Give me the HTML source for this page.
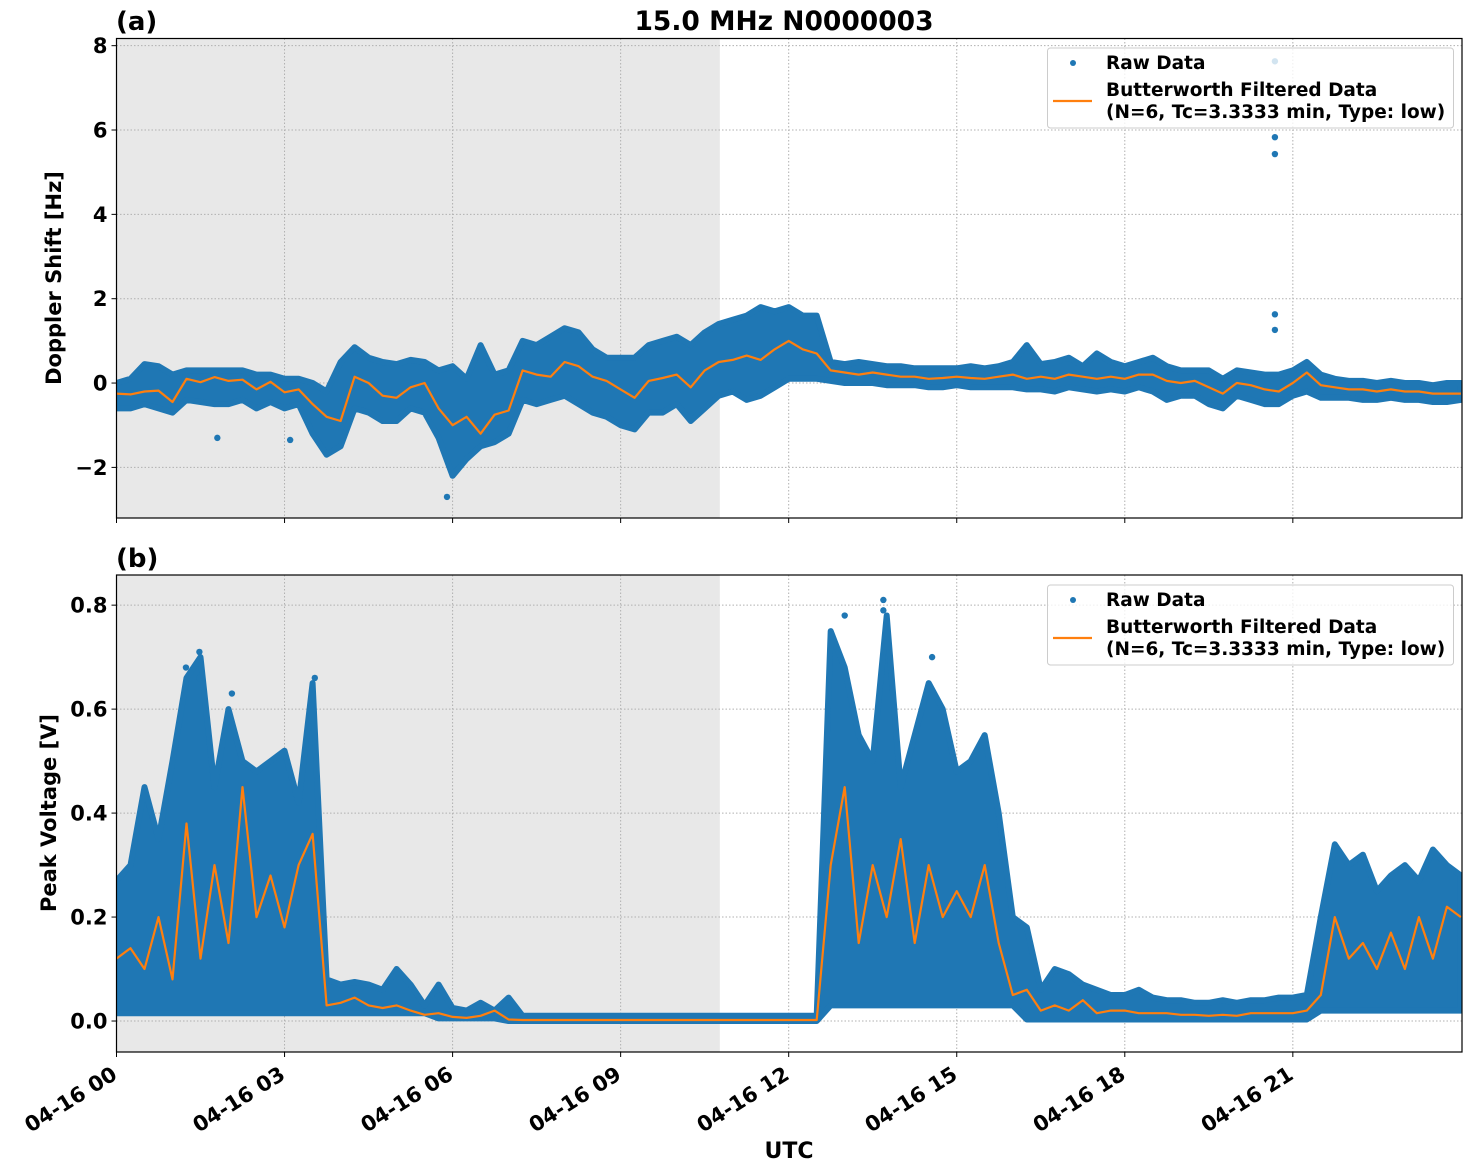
<!DOCTYPE html>
<html><head><meta charset="utf-8"><style>
html,body{margin:0;padding:0;background:#fff;}
svg{display:block;font-family:"DejaVu Sans","Liberation Sans",sans-serif;font-weight:bold;}
</style></head><body>
<svg id="fig" width="1471" height="1172" viewBox="0 0 1471 1172" xmlns="http://www.w3.org/2000/svg">
<text x="784" y="30" font-size="26.5" text-anchor="middle">15.0 MHz N0000003</text>
<text x="116" y="30" font-size="26">(a)</text>
<text x="116" y="567" font-size="26">(b)</text>
<text transform="translate(61,278) rotate(-90)" font-size="21" text-anchor="middle">Doppler Shift [Hz]</text>
<text transform="translate(56,813) rotate(-90)" font-size="21" text-anchor="middle">Peak Voltage [V]</text>
<text x="789" y="1158" font-size="22" text-anchor="middle">UTC</text>
<g id="top"></g>
<g id="bot"></g>
</svg>
<script>
// time grid: hours, 0.25 h steps
const stepH = 0.25;
const xTicks = [0,3,6,9,12,15,18,21];
const xTickLabels = ["04-16 00","04-16 03","04-16 06","04-16 09","04-16 12","04-16 15","04-16 18","04-16 21"];
const nightEnd = 10.77;
// Doppler shift (Hz)
const topFiltered = [-0.25,-0.27,-0.2,-0.18,-0.45,0.1,0.02,0.14,0.05,0.08,-0.15,0.03,-0.22,-0.15,-0.5,-0.8,-0.9,0.15,0.0,-0.3,-0.35,-0.1,0.0,-0.6,-1.0,-0.8,-1.2,-0.75,-0.65,0.3,0.2,0.15,0.5,0.4,0.15,0.05,-0.15,-0.35,0.05,0.12,0.2,-0.1,0.3,0.5,0.55,0.65,0.55,0.8,1.0,0.8,0.7,0.3,0.25,0.2,0.25,0.2,0.15,0.15,0.1,0.12,0.15,0.12,0.1,0.15,0.2,0.1,0.15,0.1,0.2,0.15,0.1,0.15,0.1,0.2,0.2,0.05,0.0,0.05,-0.1,-0.25,0.0,-0.05,-0.15,-0.2,0.0,0.25,-0.05,-0.1,-0.15,-0.15,-0.2,-0.15,-0.2,-0.2,-0.25,-0.25,-0.25];
const topRawHigh = [0.0,0.1,0.45,0.4,0.2,0.3,0.3,0.3,0.3,0.3,0.2,0.2,0.1,0.1,0.0,-0.2,0.5,0.85,0.6,0.5,0.45,0.55,0.5,0.3,0.4,0.1,0.9,0.2,0.3,1.0,0.9,1.1,1.3,1.2,0.8,0.6,0.6,0.6,0.9,1.0,1.1,0.9,1.2,1.4,1.5,1.6,1.8,1.7,1.8,1.6,1.6,0.5,0.45,0.5,0.45,0.4,0.4,0.35,0.35,0.35,0.35,0.4,0.35,0.4,0.5,0.9,0.45,0.5,0.6,0.4,0.7,0.5,0.4,0.5,0.6,0.4,0.3,0.3,0.3,0.1,0.3,0.25,0.2,0.2,0.3,0.5,0.2,0.1,0.05,0.05,0.0,0.05,0.0,0.0,-0.05,0.0,0.0];
const topRawLow = [-0.6,-0.6,-0.5,-0.6,-0.7,-0.4,-0.45,-0.5,-0.5,-0.4,-0.6,-0.45,-0.6,-0.5,-1.2,-1.7,-1.5,-0.6,-0.7,-0.9,-0.9,-0.6,-0.7,-1.3,-2.2,-1.8,-1.5,-1.4,-1.2,-0.4,-0.5,-0.4,-0.3,-0.5,-0.7,-0.8,-1.0,-1.1,-0.7,-0.7,-0.5,-0.9,-0.6,-0.3,-0.2,-0.4,-0.3,-0.1,0.1,0.1,0.1,0.05,0.0,0.0,0.0,-0.05,-0.05,-0.05,-0.1,-0.1,-0.05,-0.1,-0.1,-0.1,-0.1,-0.15,-0.15,-0.2,-0.1,-0.15,-0.2,-0.15,-0.2,-0.1,-0.2,-0.4,-0.3,-0.3,-0.5,-0.6,-0.3,-0.4,-0.5,-0.5,-0.3,-0.2,-0.35,-0.35,-0.35,-0.4,-0.4,-0.35,-0.4,-0.4,-0.45,-0.45,-0.4];
const topOutlierTimes = [20.68,20.68,20.68,20.68,20.68,3.1,1.8,5.9];
const topOutlierValues = [7.63,5.83,5.43,1.63,1.26,-1.35,-1.3,-2.7];
const topYTicks = [-2,0,2,4,6,8];
// Peak voltage (V)
const botFiltered = [0.12,0.14,0.1,0.2,0.08,0.38,0.12,0.3,0.15,0.45,0.2,0.28,0.18,0.3,0.36,0.03,0.035,0.045,0.03,0.025,0.03,0.02,0.012,0.015,0.008,0.006,0.01,0.02,0.003,0.002,0.002,0.002,0.002,0.002,0.002,0.002,0.002,0.002,0.002,0.002,0.002,0.002,0.002,0.002,0.002,0.002,0.002,0.002,0.002,0.002,0.002,0.3,0.45,0.15,0.3,0.2,0.35,0.15,0.3,0.2,0.25,0.2,0.3,0.15,0.05,0.06,0.02,0.03,0.02,0.04,0.015,0.02,0.02,0.015,0.015,0.015,0.012,0.012,0.01,0.012,0.01,0.015,0.015,0.015,0.015,0.02,0.05,0.2,0.12,0.15,0.1,0.17,0.1,0.2,0.12,0.22,0.2];
const botRawHigh = [0.27,0.3,0.45,0.35,0.5,0.66,0.7,0.45,0.6,0.5,0.48,0.5,0.52,0.42,0.65,0.08,0.07,0.075,0.07,0.06,0.1,0.07,0.03,0.07,0.025,0.02,0.035,0.02,0.045,0.01,0.01,0.01,0.01,0.01,0.01,0.01,0.01,0.01,0.01,0.01,0.01,0.01,0.01,0.01,0.01,0.01,0.01,0.01,0.01,0.01,0.01,0.75,0.68,0.55,0.5,0.78,0.45,0.55,0.65,0.6,0.48,0.5,0.55,0.4,0.2,0.18,0.06,0.1,0.09,0.07,0.06,0.05,0.05,0.06,0.045,0.04,0.04,0.035,0.035,0.04,0.035,0.04,0.04,0.045,0.045,0.05,0.2,0.34,0.3,0.32,0.25,0.28,0.3,0.27,0.33,0.3,0.28];
const botRawLow = [0.015,0.015,0.015,0.015,0.015,0.015,0.015,0.015,0.015,0.015,0.015,0.015,0.015,0.015,0.015,0.015,0.015,0.015,0.015,0.015,0.015,0.015,0.015,0.005,0.005,0.005,0.005,0.005,0.0,0.0,0.0,0.0,0.0,0.0,0.0,0.0,0.0,0.0,0.0,0.0,0.0,0.0,0.0,0.0,0.0,0.0,0.0,0.0,0.0,0.0,0.0,0.03,0.03,0.03,0.03,0.03,0.03,0.03,0.03,0.03,0.03,0.03,0.03,0.03,0.03,0.003,0.003,0.003,0.003,0.003,0.003,0.003,0.003,0.003,0.003,0.003,0.003,0.003,0.003,0.003,0.003,0.003,0.003,0.003,0.003,0.003,0.02,0.02,0.02,0.02,0.02,0.02,0.02,0.02,0.02,0.02,0.02];
const botOutlierTimes = [1.48,1.48,1.24,3.54,2.06,13.69,13.69,13.0,14.56];
const botOutlierValues = [0.71,0.66,0.68,0.66,0.63,0.81,0.79,0.78,0.70];
const botYTicks = [0.0,0.2,0.4,0.6,0.8];
const botYLabels = ["0.0","0.2","0.4","0.6","0.8"];

const NS = "http://www.w3.org/2000/svg";
const X0 = 116.5, X1 = 1462, T0 = 0, T1 = 24.02;
function xs(t){ return X0 + (t - T0) / (T1 - T0) * (X1 - X0); }
function mk(tag, attrs, parent){ const e = document.createElementNS(NS, tag); for (const k in attrs) e.setAttribute(k, attrs[k]); parent.appendChild(e); return e; }

function panel(g, top, bottom, vmin, vmax, fil, hi, lo, oT, oV, yt, yl, legendY){
  const ys = v => bottom - (v - vmin) / (vmax - vmin) * (bottom - top);
  const clip = mk('clipPath', {id: g.id + '-clip'}, g);
  mk('rect', {x: X0, y: top, width: X1 - X0, height: bottom - top}, clip);
  const night = mk('rect', {x: X0, y: top, width: xs(nightEnd) - X0, height: bottom - top, fill: '#e8e8e8'}, g);
  
  
  const grid = mk('g', {stroke: '#b0b0b0', 'stroke-width': 1, 'stroke-dasharray': '1.5,2'}, g);
  
  
  xTicks.forEach(t => mk('line', {x1: xs(t), x2: xs(t), y1: top, y2: bottom}, grid));
  yt.forEach(v => mk('line', {x1: X0, x2: X1, y1: ys(v), y2: ys(v)}, grid));
  const data = mk('g', {'clip-path': 'url(#' + g.id + '-clip)'}, g);
  let pts = [];
  hi.forEach((v, i) => pts.push(xs(i * stepH).toFixed(1) + ',' + ys(v).toFixed(1)));
  for (let i = lo.length - 1; i >= 0; i--) pts.push(xs(i * stepH).toFixed(1) + ',' + ys(lo[i]).toFixed(1));
  const band = mk('polygon', {points: pts.join(' '), fill: '#1f77b4', stroke: '#1f77b4', 'stroke-width': 6, 'stroke-linejoin': 'round'}, data);
  
  
  oT.forEach((t, i) => {
    const c = mk('circle', {cx: xs(t), cy: ys(oV[i]), r: 3.2, fill: '#1f77b4'}, data);
    
    
  });
  const line = mk('polyline', {points: fil.map((v, i) => xs(i * stepH).toFixed(1) + ',' + ys(v).toFixed(1)).join(' '), fill: 'none', stroke: '#ff7f0e', 'stroke-width': 2.2, 'stroke-linejoin': 'round'}, data);
  
  
  const frame = mk('rect', {x: X0, y: top, width: X1 - X0, height: bottom - top, fill: 'none', stroke: '#000', 'stroke-width': 1.2}, g);
  
  
  yt.forEach((v, i) => {
    mk('line', {x1: X0 - 5, x2: X0, y1: ys(v), y2: ys(v), stroke: '#000', 'stroke-width': 1}, g);
    const tx = mk('text', {x: X0 - 9, y: ys(v) + 7.5, 'font-size': 21, 'text-anchor': 'end'}, g);
    tx.textContent = yl[i];
    
    
  });
  xTicks.forEach(t => mk('line', {x1: xs(t), x2: xs(t), y1: bottom, y2: bottom + 5, stroke: '#000', 'stroke-width': 1}, g));
  const lg = mk('g', {}, g);
  
  
  mk('rect', {x: 1047.5, y: legendY, width: 406, height: 80, rx: 3, fill: 'rgba(255,255,255,0.8)', stroke: '#ccc', 'stroke-width': 1}, lg);
  mk('circle', {cx: 1073, cy: legendY + 15, r: 3, fill: '#1f77b4'}, lg);
  const t1 = mk('text', {x: 1106, y: legendY + 21, 'font-size': 18.5}, lg); t1.textContent = 'Raw Data';
  mk('line', {x1: 1053, x2: 1092, y1: legendY + 53, y2: legendY + 53, stroke: '#ff7f0e', 'stroke-width': 2.2}, lg);
  const t2 = mk('text', {x: 1106, y: legendY + 48, 'font-size': 18.5}, lg); t2.textContent = 'Butterworth Filtered Data';
  const t3 = mk('text', {x: 1106, y: legendY + 70, 'font-size': 18.5}, lg); t3.textContent = '(N=6, Tc=3.3333 min, Type: low)';
}
panel(document.getElementById('top'), 38.5, 518, -3.2, 8.17, topFiltered, topRawHigh, topRawLow, topOutlierTimes, topOutlierValues, topYTicks, topYTicks.map(v => v < 0 ? '\u2212' + (-v) : String(v)), 48);
panel(document.getElementById('bot'), 575, 1052, -0.0596, 0.858, botFiltered, botRawHigh, botRawLow, botOutlierTimes, botOutlierValues, botYTicks, botYLabels, 585);
const svg = document.getElementById('fig');
xTicks.forEach((t, i) => {
  const tx = mk('text', {transform: 'translate(' + (xs(t) + 2) + ',1078) rotate(-32)', 'font-size': 21, 'text-anchor': 'end'}, svg);
  tx.textContent = xTickLabels[i];
  
  
});
</script>
</body></html>
